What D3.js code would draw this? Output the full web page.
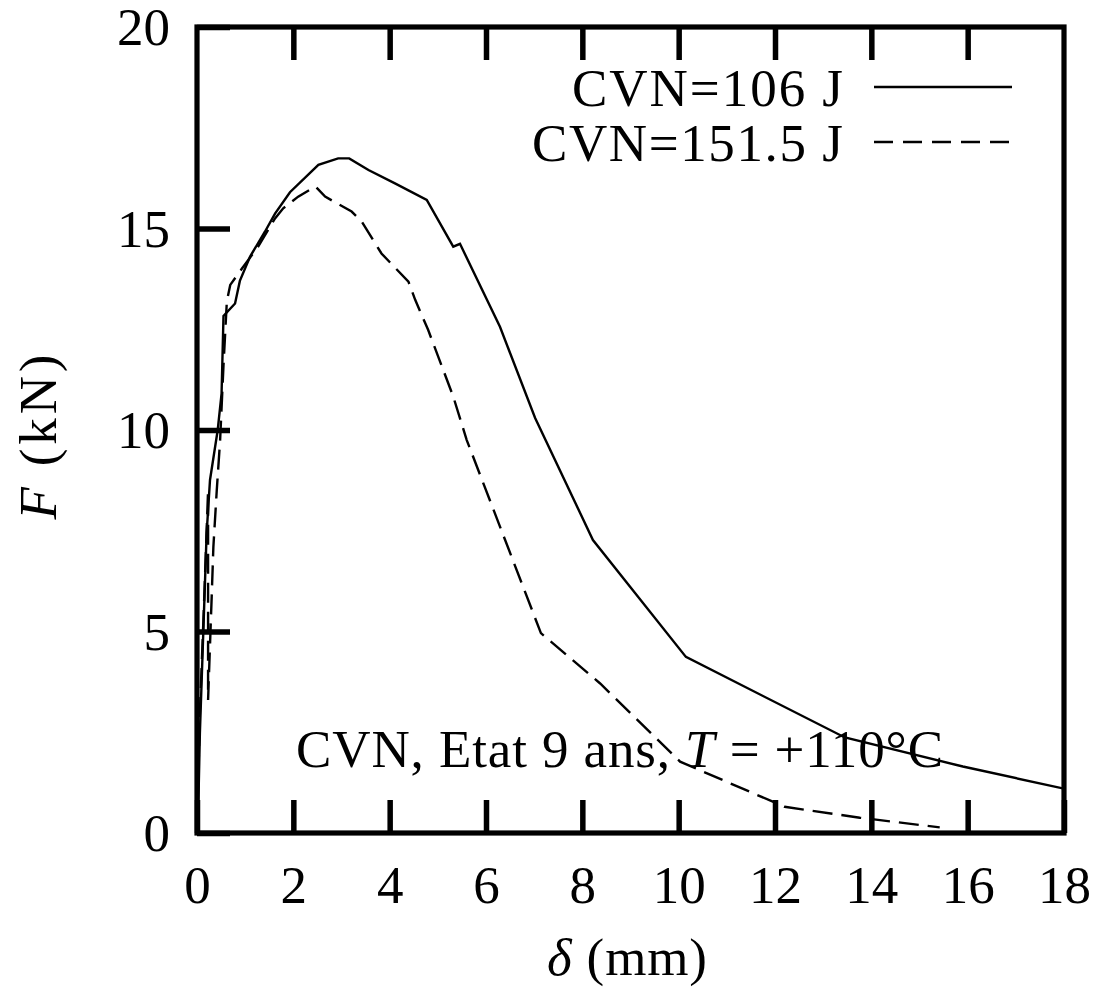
<!DOCTYPE html>
<html>
<head>
<meta charset="utf-8">
<script src="https://cdn.jsdelivr.net/npm/d3@7"></script>
<style>
  html, body { margin: 0; padding: 0; background: #fff; }
  svg { display: block; }
  text { font-family: "Liberation Serif", "Times New Roman", serif; fill: #000; }
</style>
</head>
<body>
<svg id="chart" width="1099" height="987"></svg>
<script>
// ---- data ----
const xTicks = [0, 2, 4, 6, 8, 10, 12, 14, 16, 18];
const yTicks = [0, 5, 10, 15, 20];
const seriesNames = ["CVN=106 J", "CVN=151.5 J"];

const cvn106Delta = [0, 0.03, 0.06, 0.13, 0.20, 0.27, 0.43, 0.51, 0.55, 0.79, 0.89, 1.10, 1.41, 1.62, 1.93, 2.52, 2.93, 3.16, 3.56, 4.11, 4.77, 5.32, 5.46, 6.29, 7.02, 8.22, 10.15, 13.45, 15.90, 18.0];
const cvn106Force = [0, 0.82, 2.48, 4.96, 7.44, 8.76, 10.0, 10.9, 12.83, 13.14, 13.7, 14.3, 14.92, 15.37, 15.9, 16.58, 16.74, 16.74, 16.45, 16.12, 15.71, 14.55, 14.62, 12.56, 10.3, 7.27, 4.37, 2.37, 1.65, 1.1];

const cvn151Delta = [0, 0.06, 0.14, 0.23, 0.23, 0.305, 0.34, 0.41, 0.48, 0.55, 0.62, 0.69, 0.93, 1.27, 1.62, 1.79, 2.10, 2.46, 2.66, 3.21, 3.42, 3.83, 4.39, 4.53, 4.80, 5.32, 5.60, 7.14, 8.37, 10.03, 12.2, 13.76, 15.42];
const cvn151Force = [0, 3.0, 5.5, 8.5, 3.3, 5.86, 7.1, 8.5, 9.75, 11.6, 13.2, 13.6, 14.0, 14.55, 15.25, 15.5, 15.79, 16.04, 15.79, 15.42, 15.17, 14.38, 13.68, 13.23, 12.48, 10.83, 9.75, 4.96, 3.71, 1.77, 0.65, 0.38, 0.14];

// ---- layout ----
const svg = d3.select("#chart");
const L = 197, R = 1064, T = 27, B = 833;
const x = d3.scaleLinear().domain([0, 18]).range([L, R]);
const y = d3.scaleLinear().domain([0, 20]).range([B, T]);
const tickLen = 33;
const fs = 53;

const line = d3.line().x(d => x(d[0])).y(d => y(d[1]));
const s1 = cvn106Delta.map((d, i) => [d, cvn106Force[i]]);
const s2 = cvn151Delta.map((d, i) => [d, cvn151Force[i]]);

svg.append("defs").append("clipPath").attr("id", "clip")
  .append("rect").attr("x", L).attr("y", T).attr("width", R - L).attr("height", B - T);

const g = svg.append("g").attr("clip-path", "url(#clip)");
g.append("path").datum(s1).attr("d", line)
  .attr("fill", "none").attr("stroke", "#000").attr("stroke-width", 2.4).attr("stroke-linejoin", "miter");
g.append("path").datum(s2).attr("d", line)
  .attr("fill", "none").attr("stroke", "#000").attr("stroke-width", 2.4)
  .attr("stroke-dasharray", "20,9");

// ---- axes ----
function styleAxis(sel) {
  sel.select(".domain").remove();
  sel.selectAll(".tick line").attr("stroke", "#000").attr("stroke-width", 5.5);
}

const bottomAxis = svg.append("g").attr("transform", `translate(0,${B})`)
  .call(d3.axisBottom(x).tickValues(xTicks).tickSizeInner(-tickLen).tickSizeOuter(0).tickFormat(d3.format("d")));
styleAxis(bottomAxis);
bottomAxis.selectAll(".tick text").attr("y", 70).attr("dy", 0)
  .attr("font-size", fs).attr("font-family", "Liberation Serif, serif").attr("fill", "#000");

const topAxis = svg.append("g").attr("transform", `translate(0,${T})`)
  .call(d3.axisTop(x).tickValues(xTicks.slice(1, -1)).tickSizeInner(-tickLen).tickSizeOuter(0).tickFormat(""));
styleAxis(topAxis);

const leftAxis = svg.append("g").attr("transform", `translate(${L},0)`)
  .call(d3.axisLeft(y).tickValues(yTicks).tickSizeInner(-tickLen).tickSizeOuter(0).tickFormat(d3.format("d")));
styleAxis(leftAxis);
leftAxis.selectAll(".tick text").attr("x", -27).attr("dy", "0.33em")
  .attr("font-size", fs).attr("font-family", "Liberation Serif, serif").attr("fill", "#000");

// frame
svg.append("rect").attr("x", L).attr("y", T).attr("width", R - L).attr("height", B - T)
  .attr("fill", "none").attr("stroke", "#000").attr("stroke-width", 5.2);

// ---- axis titles ----
const yl = svg.append("text")
  .attr("transform", "translate(56,437) rotate(-90)")
  .attr("text-anchor", "middle").attr("font-size", fs)
  .attr("textLength", 165).attr("lengthAdjust", "spacing");
yl.append("tspan").attr("font-style", "italic").text("F");
yl.append("tspan").text(" (kN)");

const xl = svg.append("text")
  .attr("x", 627).attr("y", 975)
  .attr("text-anchor", "middle").attr("font-size", fs)
  .attr("textLength", 160).attr("lengthAdjust", "spacing");
xl.append("tspan").attr("font-style", "italic").text("δ");
xl.append("tspan").text(" (mm)");

// ---- legend ----
const legendY = [87, 142];
const legendBase = [106, 161];
const legendWidths = [271, 311];
const dashes = [null, "19,10"];
seriesNames.forEach((name, i) => {
  svg.append("text").attr("x", 843).attr("y", legendBase[i])
    .attr("text-anchor", "end").attr("font-size", fs)
    .attr("textLength", legendWidths[i]).attr("lengthAdjust", "spacing")
    .text(name);
  const ln = svg.append("line").attr("x1", 874).attr("x2", 1012)
    .attr("y1", legendY[i]).attr("y2", legendY[i])
    .attr("stroke", "#000").attr("stroke-width", 2.4);
  if (dashes[i]) ln.attr("stroke-dasharray", dashes[i]);
});

// ---- annotation ----
const ann = svg.append("text").attr("x", 296).attr("y", 767)
  .attr("font-size", fs).attr("textLength", 647).attr("lengthAdjust", "spacing");
ann.append("tspan").text("CVN, Etat 9 ans, ");
ann.append("tspan").attr("font-style", "italic").text("T");
ann.append("tspan").text(" = +110°C");
</script>
</body>
</html>
